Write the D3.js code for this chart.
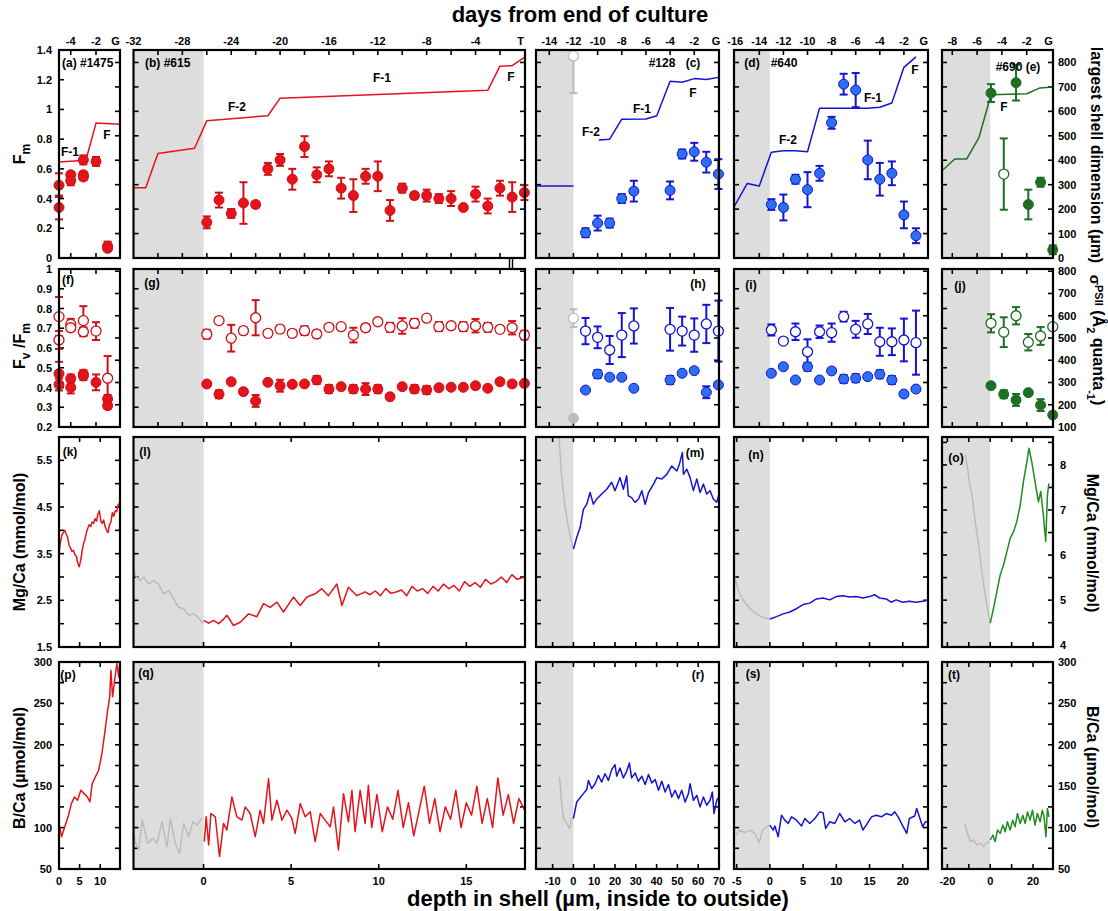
<!DOCTYPE html>
<html>
<head>
<meta charset="utf-8">
<script src="https://cdn.jsdelivr.net/npm/d3@7"></script>
<style>
  body { margin: 0; background: #fff; }
  svg { display: block; font-family: "Liberation Sans", Arial, sans-serif; font-weight: bold; }
</style>
</head>
<body>
<svg id="chart" width="1108" height="911"></svg>
<script>
// ---- row 1: Fm (day, value, err) and largest shell dimension (day, um)
const fm1475 = [[-4.93, 0.49, 0.08], [-4.93, 0.34, 0.08], [-4, 0.56, 0.02], [-4, 0.52, 0.03], [-3, 0.66, 0.03], [-3, 0.56, 0.02], [-3, 0.545, 0.02], [-2, 0.65, 0.03], [-1.08, 0.08, 0.03], [-1.08, 0.065, 0.01]];
const size1475 = [[-4.93, 393], [-2.8, 400], [-2, 552], [-0.1, 547]];
const fm615 = [[-26, 0.24, 0.04], [-25, 0.39, 0.05], [-24, 0.30, 0.03], [-23, 0.37, 0.14], [-22, 0.36, 0.02], [-21, 0.60, 0.04], [-20, 0.66, 0.04], [-19, 0.53, 0.07], [-18, 0.75, 0.07], [-17, 0.56, 0.05], [-16, 0.60, 0.05], [-15, 0.47, 0.07], [-14, 0.42, 0.11], [-13, 0.55, 0.05], [-12, 0.55, 0.10], [-11, 0.32, 0.07], [-10, 0.47, 0.03], [-9, 0.42, 0.02], [-8, 0.42, 0.04], [-7, 0.40, 0.03], [-6, 0.40, 0.05], [-5, 0.34, 0], [-4, 0.43, 0.05], [-3, 0.35, 0.05], [-2, 0.47, 0.05], [-1, 0.41, 0.10], [0, 0.44, 0.05]];
const size615 = [[-32, 287], [-31, 287], [-30, 428], [-27, 449], [-26, 562], [-21, 582], [-20, 654], [-3, 686], [-2, 785], [-1, 787], [0.05, 823]];
const fm128Early = [[-12, 1.36, 0.25]];
const fm128 = [[-11, 0.17, 0.03], [-10, 0.235, 0.05], [-9, 0.235, 0.03], [-8, 0.40, 0.03], [-7, 0.45, 0.07], [-4, 0.455, 0.06], [-3, 0.70, 0.03], [-2, 0.715, 0.06], [-1, 0.645, 0.07], [0, 0.565, 0.1]];
const size128Early = [[-15.1, 295], [-12, 295]];
const size128 = [[-9.9, 483], [-9, 486], [-8, 568], [-6, 569], [-5.1, 582], [-4, 723], [-3, 719], [-2, 734], [-1, 730], [0, 739]];
const fm640 = [[-13, 0.36, 0.036], [-12, 0.34, 0.087], [-11, 0.53, 0.03], [-10, 0.46, 0.118], [-9, 0.57, 0.05], [-8, 0.91, 0.04], [-7, 1.17, 0.07], [-6, 1.13, 0.115], [-5, 0.66, 0.13], [-4, 0.53, 0.11], [-3, 0.57, 0.08], [-2, 0.29, 0.09], [-1, 0.15, 0.05]];
const size640 = [[-16.1, 209], [-15, 305], [-14, 295], [-13, 433], [-12, 439], [-11, 439], [-10, 435], [-9, 613], [-5, 613], [-4, 617], [-3, 634], [-2, 780], [-1, 823]];
const fm690 = [[-4.88, 1.11, 0.06], [-2.86, 1.18, 0.12], [-1.87, 0.36, 0.1], [-0.88, 0.51, 0.03], [0.1, 0.055, 0.03]];
const fm690Open = [[-3.85, 0.565, 0.24]];
const size690 = [[-8.83, 357], [-7.8, 405], [-6.85, 405], [-5.85, 493], [-4.88, 668], [-2, 672], [-0.93, 696], [0.12, 700]];

// ---- row 2: Fv/Fm (filled) and sigma PSII (open)
const fvfm1475 = [[-4.93, 0.47, 0.06], [-4.93, 0.415, 0.03], [-4, 0.445, 0.02], [-4, 0.40, 0.03], [-3, 0.468, 0.02], [-3, 0.458, 0.02], [-2, 0.426, 0.04], [-1.08, 0.342, 0.02], [-1.08, 0.308, 0.015]];
const sig1475 = [[-4.93, 596, 88], [-4.93, 491, 40], [-4, 561, 25], [-4, 546, 15], [-3, 578, 65], [-3, 528, 20], [-2, 531, 40], [-1.08, 319, 100]];
const fvfm615 = [[-26, 0.418, 0.01], [-25, 0.366, 0.02], [-24, 0.429, 0], [-23, 0.379, 0.01], [-22, 0.332, 0.03], [-21, 0.426, 0], [-20, 0.409, 0.03], [-19, 0.416, 0.005], [-18, 0.418, 0.01], [-17, 0.438, 0.02], [-16, 0.392, 0.02], [-15, 0.404, 0], [-14, 0.392, 0.02], [-13, 0.392, 0.03], [-12, 0.392, 0.02], [-11, 0.353, 0], [-10, 0.404, 0.005], [-9, 0.392, 0.02], [-8, 0.387, 0.02], [-7, 0.399, 0], [-6, 0.401, 0], [-5, 0.401, 0], [-4, 0.409, 0.005], [-3, 0.396, 0], [-2, 0.429, 0], [-1, 0.418, 0.01], [0, 0.421, 0.01]];
const sig615 = [[-26, 517, 20], [-25, 578, 15], [-24, 499, 60], [-23, 533, 15], [-22, 591, 79], [-21, 521, 15], [-20, 540, 15], [-19, 521, 15], [-18, 533, 20], [-17, 518, 15], [-16, 548, 10], [-15, 551, 5], [-14, 513, 33], [-13, 546, 15], [-12, 573, 10], [-11, 548, 20], [-10, 554, 35], [-9, 566, 20], [-8, 589, 5], [-7, 551, 20], [-6, 555, 10], [-5, 551, 20], [-4, 555, 30], [-3, 548, 20], [-2, 539, 8], [-1, 546, 30], [0, 513, 20]];
const fvfm128Early = [[-12, 0.244, 0]];
const sig128Early = [[-12, 589, 40]];
const fvfm128 = [[-11, 0.387, 0], [-10, 0.468, 0.02], [-9, 0.452, 0.005], [-8, 0.452, 0.01], [-7, 0.396, 0], [-4, 0.438, 0.02], [-3, 0.472, 0], [-2, 0.485, 0.01], [-1, 0.376, 0.03], [0, 0.413, 0.01]];
const sig128 = [[-11, 531, 59], [-10, 503, 49], [-9, 446, 63], [-8, 513, 99], [-7, 554, 79], [-4, 539, 96], [-3, 531, 65], [-2, 513, 75], [-1, 563, 86], [0, 531, 137]];
const fvfm640 = [[-13, 0.472, 0.005], [-12, 0.505, 0], [-11, 0.438, 0], [-10, 0.505, 0.02], [-9, 0.438, 0.01], [-8, 0.484, 0], [-7, 0.443, 0.02], [-6, 0.447, 0.02], [-5, 0.455, 0.005], [-4, 0.467, 0.02], [-3, 0.438, 0.02], [-2, 0.367, 0], [-1, 0.392, 0.01]];
const sig640 = [[-13, 536, 25], [-12, 486, 5], [-11, 528, 37], [-10, 438, 56], [-9, 528, 28], [-8, 524, 41], [-7, 596, 22], [-6, 539, 38], [-5, 563, 45], [-4, 483, 63], [-3, 483, 60], [-2, 491, 96], [-1, 479, 144]];
const fvfm690 = [[-4.88, 0.409, 0], [-3.85, 0.366, 0.02], [-2.86, 0.337, 0.03], [-1.87, 0.374, 0], [-0.88, 0.311, 0.03], [0.1, 0.261, 0]];
const sig690 = [[-4.88, 566, 41], [-3.85, 526, 67], [-2.86, 600, 39], [-1.87, 481, 37], [-0.88, 509, 40], [0.1, 551, 0]];

// ---- row 3: Mg/Ca (depth um, mmol/mol)
const mg1475 = [[0, 3.5], [0.35, 3.75], [0.7, 3.9], [1.05, 3.95], [1.4, 4.0], [1.75, 3.92], [2.1, 3.85], [2.45, 3.68], [2.8, 3.62], [3.15, 3.55], [3.5, 3.57], [3.85, 3.48], [4.2, 3.45], [4.55, 3.3], [4.9, 3.22], [5.25, 3.35], [5.6, 3.55], [5.95, 3.72], [6.3, 3.8], [6.65, 3.95], [7.0, 4.05], [7.35, 4.12], [7.7, 4.08], [8.05, 4.18], [8.4, 4.15], [8.75, 4.25], [9.1, 4.2], [9.45, 4.35], [9.8, 4.42], [10.15, 4.2], [10.5, 4.15], [10.85, 4.22], [11.2, 4.08], [11.55, 4.0], [11.9, 3.95], [12.25, 4.12], [12.6, 4.18], [12.95, 4.38], [13.3, 4.3], [13.65, 4.42], [14.0, 4.4], [14.35, 4.55], [14.8, 4.6]];
const mg615Early = [[-4.08, 3.35], [-3.9, 3.03], [-3.6, 2.92], [-3.42, 3.0], [-3.14, 2.85], [-2.85, 2.92], [-2.57, 2.85], [-2.28, 2.64], [-2.0, 2.71], [-1.71, 2.53], [-1.43, 2.35], [-1.14, 2.32], [-0.86, 2.18], [-0.57, 2.21], [-0.29, 2.13], [-0.03, 2.0]];
const mg615 = [[0, 2.07], [0.29, 2.01], [0.57, 2.07], [0.86, 2.0], [1.1, 2.08], [1.33, 2.18], [1.71, 1.96], [2.09, 2.03], [2.57, 2.21], [3.04, 2.15], [3.42, 2.43], [3.8, 2.35], [4.19, 2.46], [4.56, 2.25], [5.13, 2.57], [5.52, 2.39], [5.9, 2.57], [6.37, 2.64], [6.75, 2.75], [7.13, 2.6], [7.61, 2.85], [7.9, 2.39], [8.27, 2.78], [8.75, 2.6], [9.22, 2.68], [9.5, 2.62], [9.8, 2.7], [10.1, 2.6], [10.4, 2.75], [10.7, 2.65], [11.0, 2.68], [11.3, 2.72], [11.6, 2.6], [11.9, 2.8], [12.2, 2.7], [12.5, 2.75], [12.8, 2.65], [13.1, 2.8], [13.4, 2.7], [13.7, 2.85], [14.0, 2.75], [14.3, 2.82], [14.6, 2.7], [14.9, 2.9], [15.2, 2.8], [15.5, 2.88], [15.8, 2.78], [16.1, 2.95], [16.4, 2.85], [16.7, 2.9], [17.0, 3.0], [17.3, 2.88], [17.6, 3.05], [17.9, 2.95], [18.35, 3.0]];
const mg128Early = [[-7.6, 6.4], [-6.9, 5.95], [-5.6, 5.13], [-4.0, 4.49], [-2.4, 4.06], [-0.3, 3.63], [0, 3.6]];
const mg128 = [[0, 3.6], [1.6, 3.85], [3.2, 4.06], [4.8, 4.45], [6.4, 4.56], [8.0, 4.81], [9.6, 4.56], [11.2, 4.67], [13.6, 4.78], [16.0, 4.88], [18.4, 5.03], [20.0, 4.85], [22.4, 5.13], [24.0, 4.88], [25.6, 5.17], [26.4, 4.74], [28.0, 4.7], [29.6, 4.6], [31.3, 4.67], [32.9, 4.85], [34.5, 4.56], [36.1, 4.81], [38.5, 4.99], [40.1, 5.13], [42.5, 5.1], [44.9, 5.2], [47.3, 5.38], [49.7, 5.27], [51.0, 5.42], [52.4, 5.67], [52.9, 5.2], [54.5, 5.31], [56.1, 5.13], [57.7, 4.85], [59.3, 5.1], [60.9, 4.81], [62.5, 4.99], [64.1, 4.78], [65.7, 4.85], [67.3, 4.67], [68.9, 4.6], [70, 4.78]];
const mg640Early = [[-5.4, 3.05], [-4.77, 2.71], [-4.0, 2.5], [-3.0, 2.32], [-2.0, 2.21], [-1.0, 2.13], [-0.1, 2.1]];
const mg640 = [[0, 2.1], [1, 2.15], [2, 2.21], [3, 2.25], [4, 2.32], [5, 2.41], [6, 2.44], [7, 2.53], [8, 2.55], [9, 2.51], [10, 2.58], [11, 2.6], [12, 2.57], [13, 2.58], [14, 2.55], [15, 2.58], [15.75, 2.62], [16.5, 2.55], [17.5, 2.53], [18.25, 2.46], [19, 2.51], [20, 2.46], [21, 2.48], [22, 2.46], [23, 2.48], [23.8, 2.51]];
const mg690Early = [[-11.6, 8.22], [-10.8, 8.0], [-9.6, 7.59], [-8.5, 7.33], [-7.0, 6.74], [-5.4, 6.22], [-3.9, 5.63], [-2.3, 5.11], [-0.8, 4.67], [0, 4.49]];
const mg690 = [[0, 4.49], [1.55, 4.82], [3.1, 5.19], [4.65, 5.56], [6.2, 5.78], [7.75, 6.07], [9.3, 6.37], [10.9, 6.52], [12.4, 6.74], [14.0, 7.11], [15.5, 7.63], [17.1, 8.07], [18.1, 8.37], [19.4, 8.07], [20.9, 7.63], [22.5, 7.18], [23.6, 7.41], [24.8, 6.89], [25.9, 6.3], [26.7, 7.33], [27.4, 7.59]];

// ---- row 4: B/Ca (depth um, umol/mol)
const b1475 = [[0, 105], [0.63, 89], [1.4, 101], [2.2, 113], [3.0, 129], [3.75, 137], [4.5, 133], [5.3, 145], [6.1, 141], [6.9, 137], [7.5, 131], [8.05, 153], [8.8, 161], [9.6, 169], [10.4, 189], [11.2, 218], [11.8, 242], [12.3, 258], [12.6, 290], [13.0, 258], [13.5, 278], [14.05, 298], [14.5, 282], [14.8, 300]];
const b615Early = [[-4.08, 101], [-3.9, 83], [-3.7, 73], [-3.5, 109], [-3.2, 81], [-2.9, 87], [-2.66, 81], [-2.37, 107], [-2.09, 77], [-1.9, 111], [-1.61, 81], [-1.37, 69], [-1.14, 105], [-0.86, 89], [-0.6, 107], [-0.38, 103], [-0.09, 111]];
const b615 = [[0.04, 83], [0.15, 113], [0.29, 79], [0.42, 117], [0.67, 113], [0.91, 65], [1.14, 105], [1.33, 97], [1.62, 137], [1.9, 113], [2.19, 109], [2.38, 125], [2.66, 117], [2.95, 89], [3.23, 121], [3.42, 105], [3.71, 159], [3.9, 109], [4.19, 133], [4.47, 109], [4.76, 121], [5.04, 111], [5.23, 93], [5.52, 129], [5.8, 113], [6.09, 119], [6.37, 83], [6.66, 117], [6.94, 109], [7.23, 101], [7.42, 125], [7.7, 73], [7.99, 141], [8.27, 107], [8.47, 145], [8.65, 95], [8.94, 145], [9.22, 105], [9.41, 151], [9.6, 100], [9.9, 140], [10.2, 95], [10.5, 125], [10.8, 110], [11.1, 145], [11.4, 100], [11.7, 130], [12.0, 90], [12.3, 120], [12.6, 150], [12.9, 105], [13.2, 135], [13.5, 95], [13.8, 125], [14.1, 110], [14.4, 145], [14.7, 100], [15.0, 130], [15.3, 115], [15.6, 150], [15.9, 105], [16.2, 135], [16.5, 100], [16.8, 160], [17.1, 115], [17.4, 140], [17.7, 105], [18.0, 135], [18.35, 120]];
const b128Early = [[-6.7, 161], [-5.6, 129], [-4.8, 111], [-3.2, 105], [-1.9, 99], [-0.8, 111], [0, 113]];
const b128 = [[0, 111], [1.6, 131], [3.2, 136], [4.8, 141], [6.4, 146], [7.2, 157], [8.8, 147], [10.4, 153], [12.0, 163], [13.6, 155], [15.2, 165], [16.8, 157], [18.4, 170], [20.0, 176], [20.8, 162], [22.4, 172], [24.0, 160], [25.6, 168], [26.9, 178], [28.0, 160], [29.7, 166], [31.2, 156], [32.9, 162], [34.5, 152], [36.1, 164], [37.7, 154], [39.3, 158], [40.9, 145], [42.5, 156], [44.1, 143], [45.7, 152], [47.3, 137], [48.9, 145], [50.5, 135], [52.1, 145], [53.7, 131], [55.3, 141], [56.1, 153], [57.7, 133], [59.3, 139], [60.9, 125], [62.5, 137], [64.1, 127], [65.7, 133], [66.8, 143], [67.6, 117], [68.9, 133], [70, 137]];
const b640Early = [[-5.1, 91], [-4.5, 97], [-3.8, 94], [-3.0, 97], [-2.26, 93], [-1.6, 82], [-1.1, 97], [-0.5, 101], [-0.1, 102]];
const b640 = [[0, 103], [0.5, 97], [0.75, 102], [1.25, 89], [1.75, 115], [2.25, 109], [2.75, 105], [3.26, 113], [4.0, 109], [4.77, 102], [5.26, 111], [6.0, 105], [6.77, 111], [7.5, 119], [8.0, 118], [8.4, 99], [9.0, 107], [9.77, 105], [10.5, 117], [11.3, 107], [12.0, 111], [12.8, 105], [13.5, 109], [14.0, 97], [14.5, 103], [15.3, 113], [16.0, 115], [16.8, 113], [17.5, 117], [18.3, 115], [18.8, 119], [19.3, 113], [19.8, 105], [20.6, 93], [21.0, 111], [21.8, 114], [22.1, 123], [22.5, 113], [23.0, 101], [23.4, 107], [23.8, 107]];
const b690Early = [[-12.0, 105], [-10.8, 95], [-9.3, 83], [-7.75, 85], [-6.2, 79], [-4.65, 81], [-3.1, 77], [-1.55, 82], [-0.3, 83]];
const b690 = [[0, 85], [1.24, 91], [2.3, 83], [3.4, 97], [4.65, 93], [5.9, 103], [7.0, 95], [8.0, 107], [9.3, 97], [10.5, 109], [11.6, 101], [12.7, 117], [14.0, 105], [15.2, 115], [16.3, 105], [17.4, 119], [18.6, 109], [19.7, 121], [20.9, 103], [22.0, 117], [23.3, 107], [24.3, 121], [25.1, 113], [26.0, 89], [26.7, 123], [27.4, 113]];

// ---- layout
const svg = d3.select('#chart');
const RED = '#e3141b', BLUE = '#1414d2', BLUE_FILL = '#2e6ff2', GREEN = '#1f6e25', GREEN_LINE = '#1f8c22', GREY = '#bcbcbc', SHADE = '#dcdddc';

const cols = [
  { x0: 59, x1: 120, depth: [0, 14.8], days: [-4.93, -0.1], dayTicks: [-4, -2], dayLabels: [[-4, '-4'], [-2, '-2'], [-0.45, 'G']], depthTicks: [0, 5, 10], depthLabels: [0, 5, 10] },
  { x0: 133.5, x1: 525, depth: [-4, 18.35], days: [-32, 0.05], dayTicks: d3.range(-30, 0, 2), dayLabels: [...d3.range(-32, 0, 4).map(d => [d, `${d}`]), [-0.3, 'T']], depthTicks: [0, 5, 10, 15], depthLabels: [0, 5, 10, 15] },
  { x0: 536, x1: 719, depth: [-18, 70], days: [-15.1, 0.05], dayTicks: d3.range(-14, 0, 2), dayLabels: [...d3.range(-14, 0, 2).map(d => [d, `${d}`]), [-0.2, 'G']], depthTicks: d3.range(-10, 71, 10), depthLabels: d3.range(-10, 71, 10) },
  { x0: 734, x1: 928, depth: [-5.4, 23.8], days: [-16.1, 0], dayTicks: d3.range(-14, 0, 2), dayLabels: [...d3.range(-16, 0, 2).map(d => [d, `${d}`]), [-0.35, 'G']], depthTicks: d3.range(-5, 21, 5), depthLabels: d3.range(-5, 21, 5) },
  { x0: 942, x1: 1053, depth: [-22.5, 29.3], days: [-8.83, 0.12], dayTicks: d3.range(-8, 0, 2), dayLabels: [...d3.range(-8, 0, 2).map(d => [d, `${d}`]), [-0.25, 'G']], depthTicks: d3.range(-20, 21, 10), depthLabels: [-20, 0, 20] },
];
cols.forEach(c => {
  c.xd = d3.scaleLinear().domain(c.depth).range([c.x0, c.x1]);
  c.xt = d3.scaleLinear().domain(c.days).range([c.x0, c.x1]);
});
const rows = [{ y0: 50, y1: 258 }, { y0: 269, y1: 427 }, { y0: 437, y1: 647 }, { y0: 662, y1: 869 }];

const yFm = d3.scaleLinear().domain([0, 1.4]).range([258, 50]);
const ySize = d3.scaleLinear().domain([0, 851]).range([258, 50]);
const yFv = d3.scaleLinear().domain([0.2, 1.0]).range([427, 269]);
const ySig = d3.scaleLinear().domain([100, 810]).range([427, 269]);
const yMg = d3.scaleLinear().domain([1.5, 6.0]).range([647, 437]);
const yMgR = d3.scaleLinear().domain([3.96, 8.62]).range([647, 437]);
const yB = d3.scaleLinear().domain([50, 300]).range([869, 662]);

const defs = svg.append('defs');
rows.forEach((r, ri) => cols.forEach((c, ci) => {
  defs.append('clipPath').attr('id', `cp${ri}${ci}`)
    .append('rect').attr('x', c.x0).attr('y', r.y0).attr('width', c.x1 - c.x0).attr('height', r.y1 - r.y0);
}));

// grey shading left of depth 0
rows.forEach(r => cols.filter(c => c.depth[0] < 0).forEach(c => {
  svg.append('rect').attr('x', c.x0).attr('y', r.y0)
    .attr('width', c.xd(0) - c.x0).attr('height', r.y1 - r.y0).attr('fill', SHADE);
}));

// inward ticks
const tickG = svg.append('g').attr('stroke', '#000').attr('stroke-width', 1.6);
function ticks(c, r, xs, yl, yr) {
  xs.forEach(x => {
    tickG.append('line').attr('x1', x).attr('x2', x).attr('y1', r.y0).attr('y2', r.y0 + 5);
    tickG.append('line').attr('x1', x).attr('x2', x).attr('y1', r.y1).attr('y2', r.y1 - 5);
  });
  yl.forEach(y => tickG.append('line').attr('x1', c.x0).attr('x2', c.x0 + 5).attr('y1', y).attr('y2', y));
  yr.forEach(y => tickG.append('line').attr('x1', c.x1).attr('x2', c.x1 - 5).attr('y1', y).attr('y2', y));
}
cols.forEach((c, ci) => {
  const sizeT = d3.range(100, 801, 100).map(ySize);
  ticks(c, rows[0], c.dayTicks.map(c.xt), ci === 0 ? d3.range(0.2, 1.3, 0.2).map(yFm) : sizeT, sizeT);
  ticks(c, rows[1], c.dayTicks.map(c.xt), d3.range(0.3, 0.95, 0.1).map(yFv), d3.range(200, 801, 100).map(ySig));
  const mgT = ci === 4 ? d3.range(4.5, 8.6, 0.5).map(yMgR) : d3.range(2, 5.9, 0.5).map(yMg);
  ticks(c, rows[2], c.depthTicks.map(c.xd), mgT, mgT);
  const bT = d3.range(75, 276, 25).map(yB);
  ticks(c, rows[3], c.depthTicks.map(c.xd), bT, bT);
});

// lines
const line = (xs, ys) => d3.line().x(d => xs(d[0])).y(d => ys(d[1]));
function drawLine(ri, ci, xs, ys, data, color, w = 1.5) {
  svg.append('path').attr('clip-path', `url(#cp${ri}${ci})`)
    .attr('d', line(xs, ys)(data)).attr('fill', 'none')
    .attr('stroke', color).attr('stroke-width', w).attr('stroke-linejoin', 'round');
}

// error-bar points
function drawPoints(xs, ys, data, stroke, fill, open) {
  const [lo, hi] = ys.range();
  const cy = v => Math.max(hi, Math.min(lo, ys(v)));
  const g = svg.append('g');
  const withErr = data.filter(d => d[2] > 0);
  g.selectAll('line.bar').data(withErr).join('line').attr('class', 'bar')
    .attr('x1', d => xs(d[0])).attr('x2', d => xs(d[0]))
    .attr('y1', d => cy(d[1] - d[2])).attr('y2', d => cy(d[1] + d[2]))
    .attr('stroke', stroke).attr('stroke-width', 2);
  [-1, 1].forEach(s => {
    g.selectAll(null).data(withErr.filter(d => ys(d[1] + s * d[2]) <= lo && ys(d[1] + s * d[2]) >= hi)).join('line')
      .attr('x1', d => xs(d[0]) - 4).attr('x2', d => xs(d[0]) + 4)
      .attr('y1', d => ys(d[1] + s * d[2])).attr('y2', d => ys(d[1] + s * d[2]))
      .attr('stroke', stroke).attr('stroke-width', 2);
  });
  g.selectAll('circle').data(data).join('circle')
    .attr('cx', d => xs(d[0])).attr('cy', d => ys(d[1])).attr('r', 5)
    .attr('fill', open ? '#fff' : fill).attr('stroke', stroke).attr('stroke-width', open ? 1.3 : 1);
}

// row 1
drawLine(0, 0, cols[0].xt, ySize, size1475, RED);
drawLine(0, 1, cols[1].xt, ySize, size615, RED);
drawLine(0, 2, cols[2].xt, ySize, size128Early, BLUE);
drawLine(0, 2, cols[2].xt, ySize, size128, BLUE);
drawLine(0, 3, cols[3].xt, ySize, size640, BLUE);
drawLine(0, 4, cols[4].xt, ySize, size690, GREEN);
drawPoints(cols[0].xt, yFm, fm1475, '#d01015', RED);
drawPoints(cols[1].xt, yFm, fm615, '#d01015', RED);
drawPoints(cols[2].xt, yFm, fm128Early, GREY, GREY, true);
drawPoints(cols[2].xt, yFm, fm128, BLUE, BLUE_FILL);
drawPoints(cols[3].xt, yFm, fm640, BLUE, BLUE_FILL);
drawPoints(cols[4].xt, yFm, fm690, GREEN, GREEN);
drawPoints(cols[4].xt, yFm, fm690Open, GREEN, GREEN, true);

// row 2
drawPoints(cols[0].xt, ySig, sig1475, '#d01015', RED, true);
drawPoints(cols[0].xt, yFv, fvfm1475, '#d01015', RED);
drawPoints(cols[1].xt, ySig, sig615, '#d01015', RED, true);
drawPoints(cols[1].xt, yFv, fvfm615, '#d01015', RED);
drawPoints(cols[2].xt, ySig, sig128Early, GREY, GREY, true);
drawPoints(cols[2].xt, yFv, fvfm128Early, GREY, GREY);
drawPoints(cols[2].xt, ySig, sig128, BLUE, BLUE_FILL, true);
drawPoints(cols[2].xt, yFv, fvfm128, BLUE, BLUE_FILL);
drawPoints(cols[3].xt, ySig, sig640, BLUE, BLUE_FILL, true);
drawPoints(cols[3].xt, yFv, fvfm640, BLUE, BLUE_FILL);
drawPoints(cols[4].xt, ySig, sig690, GREEN, GREEN, true);
drawPoints(cols[4].xt, yFv, fvfm690, GREEN, GREEN);

// row 3
drawLine(2, 0, cols[0].xd, yMg, mg1475, RED);
drawLine(2, 1, cols[1].xd, yMg, mg615Early, GREY);
drawLine(2, 1, cols[1].xd, yMg, mg615, RED);
drawLine(2, 2, cols[2].xd, yMg, mg128Early, GREY);
drawLine(2, 2, cols[2].xd, yMg, mg128, BLUE);
drawLine(2, 3, cols[3].xd, yMg, mg640Early, GREY);
drawLine(2, 3, cols[3].xd, yMg, mg640, BLUE);
drawLine(2, 4, cols[4].xd, yMgR, mg690Early, GREY);
drawLine(2, 4, cols[4].xd, yMgR, mg690, GREEN_LINE);

// row 4
drawLine(3, 0, cols[0].xd, yB, b1475, RED);
drawLine(3, 1, cols[1].xd, yB, b615Early, GREY);
drawLine(3, 1, cols[1].xd, yB, b615, RED);
drawLine(3, 2, cols[2].xd, yB, b128Early, GREY);
drawLine(3, 2, cols[2].xd, yB, b128, BLUE);
drawLine(3, 3, cols[3].xd, yB, b640Early, GREY);
drawLine(3, 3, cols[3].xd, yB, b640, BLUE);
drawLine(3, 4, cols[4].xd, yB, b690Early, GREY);
drawLine(3, 4, cols[4].xd, yB, b690, GREEN_LINE);

// frames
rows.forEach(r => cols.forEach(c => {
  svg.append('rect').attr('x', c.x0).attr('y', r.y0).attr('width', c.x1 - c.x0).attr('height', r.y1 - r.y0)
    .attr('fill', 'none').attr('stroke', '#000').attr('stroke-width', 2.2);
}));
// axis break mark
svg.append('g').attr('stroke', '#000').attr('stroke-width', 1.4)
  .selectAll('line').data([509.5, 512.5]).join('line')
  .attr('x1', d => d).attr('x2', d => d).attr('y1', 257).attr('y2', 270);

// tick labels
const txt = (x, y, s, anchor = 'middle', size = 11) => svg.append('text')
  .attr('x', x).attr('y', y).attr('text-anchor', anchor).attr('font-size', size).text(s);
cols.forEach(c => {
  c.dayLabels.forEach(([d, s]) => txt(c.xt(d), 45, s));
  c.depthLabels.forEach(d => txt(c.xd(d), 885, `${d}`));
});
[[0, '0'], [0.2, '0.2'], [0.4, '0.4'], [0.6, '0.6'], [0.8, '0.8'], [1, '1'], [1.2, '1.2'], [1.4, '1.4']]
  .forEach(([v, s]) => txt(52, yFm(v) + 4, s, 'end'));
d3.range(0.2, 1.01, 0.1).forEach(v => txt(52, yFv(v) + 4, v > 0.99 ? '1' : v.toFixed(1), 'end'));
d3.range(1.5, 5.6, 1).forEach(v => txt(52, yMg(v) + 4, v.toFixed(1), 'end'));
d3.range(50, 301, 50).forEach(v => txt(52, yB(v) + 4, `${v}`, 'end'));
d3.range(0, 801, 100).forEach(v => txt(1058, ySize(v) + 4, `${v}`, 'start'));
d3.range(100, 801, 100).forEach(v => txt(1058, ySig(v) + 4, `${v}`, 'start'));
d3.range(4, 8.1, 1).forEach(v => txt(1060, yMgR(v) + 4, `${v}`, 'start'));
d3.range(50, 301, 50).forEach(v => txt(1058, yB(v) + 4, `${v}`, 'start'));

// panel labels
[['(a) #1475', 62, 67, 'start'], ['(b) #615', 145, 67, 'start'], ['#128', 662, 67], ['(c)', 693, 67], ['(d)', 752, 67], ['#640', 784, 67], ['#690 (e)', 1018, 71],
 ['(f)', 68, 284], ['(g)', 152, 287], ['(h)', 698, 288], ['(i)', 751, 289], ['(j)', 960, 290],
 ['(k)', 70, 456], ['(l)', 145, 456], ['(m)', 695, 457], ['(n)', 756, 459], ['(o)', 956, 462],
 ['(p)', 68, 679], ['(q)', 146, 677], ['(r)', 698, 679], ['(s)', 753, 678], ['(t)', 954, 679]]
  .forEach(([s, x, y, a]) => txt(x, y, s, a || 'middle', 12));
// culture phase labels
[['F-1', 70, 156], ['F', 107, 139], ['F-2', 237, 111], ['F-1', 382, 82], ['F', 511, 81], ['F-2', 591, 136], ['F-1', 642, 113], ['F', 693, 97],
 ['F-2', 788, 144], ['F-1', 873, 102], ['F', 915, 74], ['F', 1004, 111]]
  .forEach(([s, x, y]) => txt(x, y, s, 'middle', 12));

// titles
txt(580, 22, 'days from end of culture', 'middle', 22);
txt(598, 906, 'depth in shell (µm, inside to outside)', 'middle', 22);

function vtext(x, y, angle, parts, size = 16) {
  const t = svg.append('text').attr('transform', `translate(${x},${y}) rotate(${angle})`)
    .attr('text-anchor', 'middle').attr('font-size', size);
  parts.forEach(([s, dy, fs]) => t.append('tspan').attr('dy', dy || 0).attr('font-size', fs || size).text(s));
}
vtext(25, 154, -90, [['F'], ['m', 5, 12]]);
vtext(25, 346, -90, [['F'], ['v', 5, 12], [' /F', -5], ['m', 5, 12]]);
vtext(25, 542, -90, [['Mg/Ca (mmol/mol)']]);
vtext(25, 768, -90, [['B/Ca (µmol/mol)']]);
vtext(1091, 155, 90, [['largest shell dimension (µm)']]);
vtext(1093, 340, 90, [['σ', 3, 15], ['PSII', -5, 11], [' (Å', 2], ['2', 6, 11], [' quanta', -6], ['-1', 6, 11], [')', -6]]);
vtext(1087, 543, 90, [['Mg/Ca (mmol/mol)']]);
vtext(1087, 767, 90, [['B/Ca (µmol/mol)']]);
</script>
</body>
</html>
